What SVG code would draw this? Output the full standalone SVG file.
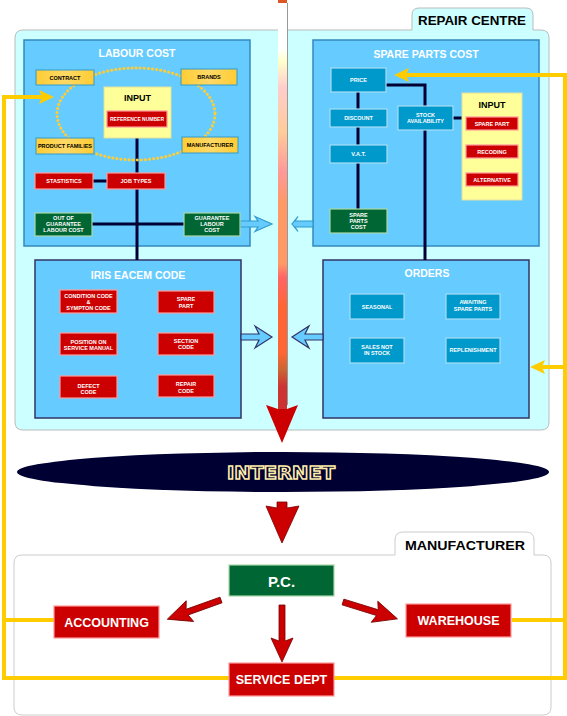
<svg xmlns="http://www.w3.org/2000/svg" xmlns:xlink="http://www.w3.org/1999/xlink" width="567" height="716" viewBox="0 0 567 716">
<defs>
<style>
.panel{fill:#66ccff;stroke:#336699;stroke-width:1.5}
.ttl{font:bold 10.5px "Liberation Sans",Arial,sans-serif;fill:#fff;text-anchor:middle}
.s{font:bold 5.5px "Liberation Sans",Arial,sans-serif;fill:#fff;text-anchor:middle}
.sk{font:bold 5.5px "Liberation Sans",Arial,sans-serif;fill:#000;text-anchor:middle}
.inp{font:bold 9px "Liberation Sans",Arial,sans-serif;fill:#000;text-anchor:middle}
.tab{font:bold 13px "Liberation Sans",Arial,sans-serif;fill:#000;text-anchor:middle}
.big{font:bold 12.5px "Liberation Sans",Arial,sans-serif;fill:#fff;text-anchor:middle}
.red{fill:#cc0000;stroke:#ff9999;stroke-width:1.2}
.grn{fill:#006633;stroke:#a8d8a8;stroke-width:1.2}
.teal{fill:#0099cc;stroke:#a8dcf4;stroke-width:1.2}
.yel{fill:url(#yg);stroke:#3399cc;stroke-width:1}
.wire{stroke:#000033;stroke-width:3;fill:none}
.yl{stroke:#ffcc00;stroke-width:4;fill:none}
.ba{fill:#66ccff;stroke:#3399cc;stroke-width:1.2}
.bd{fill:#66ccff;stroke:#333366;stroke-width:1.2}
.ra{fill:#cc0000;stroke:#770000;stroke-width:0.8}
</style>
<linearGradient id="yg" x1="0" y1="0" x2="1" y2="0">
<stop offset="0" stop-color="#ffcc33"/><stop offset="0.5" stop-color="#ffd966"/><stop offset="1" stop-color="#ffcc33"/>
</linearGradient>
<linearGradient id="mg" gradientUnits="userSpaceOnUse" x1="0" y1="0" x2="0" y2="440">
<stop offset="0" stop-color="#ffffff"/><stop offset="0.11" stop-color="#ffffff"/>
<stop offset="0.14" stop-color="#ffffcc"/><stop offset="0.2" stop-color="#ffcccc"/>
<stop offset="0.3" stop-color="#ffcc99"/><stop offset="0.39" stop-color="#ff9999"/>
<stop offset="0.46" stop-color="#ff9966"/><stop offset="0.6" stop-color="#ff9966"/>
<stop offset="0.63" stop-color="#ff6666"/><stop offset="0.7" stop-color="#ff6633"/>
<stop offset="0.8" stop-color="#ff6633"/><stop offset="0.84" stop-color="#cc6633"/>
<stop offset="0.88" stop-color="#cc3333"/><stop offset="1" stop-color="#cc3333"/>
</linearGradient>
<marker id="ya" markerUnits="userSpaceOnUse" markerWidth="16" markerHeight="14" refX="4" refY="7" orient="auto-start-reverse">
<path d="M0,0 L15,7 L0,14 L3,7 Z" fill="#ffcc00"/>
</marker>
<path id="rarr" d="M0,-3 H36 L33,-11 L57,0 L33,11 L36,3 H0 Z"/>
</defs>

<!-- containers -->
<g id="repair-centre">
<path d="M15,38 Q15,30 23,30 H412 V15 Q412,8 419,8 H526 Q533,8 533,15 V30 H541 Q549,30 549,38 V422 Q549,430 541,430 H23 Q15,430 15,422 Z" fill="#ccffff" stroke="#bbbbbb" stroke-width="1"/>
<text class="tab" x="472" y="25" textLength="108" lengthAdjust="spacingAndGlyphs">REPAIR CENTRE</text>
</g>
<g id="manufacturer">
<path d="M14,563 Q14,555 22,555 H395 V540 Q395,532 403,532 H526 Q534,532 534,540 V555 H543 Q551,555 551,563 V707 Q551,715 543,715 H22 Q14,715 14,707 Z" fill="#ffffff" stroke="#cccccc" stroke-width="1"/>
<text class="tab" x="465" y="550" textLength="120" lengthAdjust="spacingAndGlyphs">MANUFACTURER</text>
</g>

<!-- panels -->
<g id="labour-cost">
<rect class="panel" x="24" y="40" width="226" height="206" style="stroke:#3388bb"/>
<text class="ttl" x="137" y="57">LABOUR COST</text>
</g>
<g id="spare-parts-cost">
<rect class="panel" x="313" y="40" width="226" height="206" style="stroke:#3388bb"/>
<text class="ttl" x="426" y="58">SPARE PARTS COST</text>
</g>
<g id="iris-eacem-code">
<rect class="panel" x="35" y="260" width="206" height="158" style="stroke:#333366"/>
<text class="ttl" x="138" y="279">IRIS EACEM CODE</text>
</g>
<g id="orders">
<rect class="panel" x="323" y="260" width="206" height="158" style="stroke:#333366"/>
<text class="ttl" x="427" y="277">ORDERS</text>
</g>

<!-- connectors -->
<g id="connectors">
<path class="wire" d="M137,127 V260"/>
<path class="wire" d="M93,181 H107"/>
<path class="wire" d="M92,224 H184"/>
<path class="wire" d="M358,92 V209"/>
<path class="wire" d="M386,85 H425 V106"/>
<path class="wire" d="M453,118 H462"/>
<path class="wire" d="M425,130 V260"/>
<path class="yl" d="M43,97 H4 V678 H565 V75 H405" marker-start="url(#ya)" marker-end="url(#ya)"/>
<path class="yl" d="M4,620 H54"/>
<path class="yl" d="M512,620 H565"/>
<path class="yl" d="M565,367 H541" marker-end="url(#ya)"/>
<polygon class="ba" points="240,221 258,221 255,216.5 272,224 255,231.5 258,227 240,227"/>
<polygon class="ba" points="313,221 295,221 298,216.5 292,224 298,231.5 295,227 313,227"/>
<polygon class="bd" points="241,334 259,334 255,326 272,337 255,348 259,340 241,340"/>
<polygon class="bd" points="323,334 305,334 309,326 292,337 309,348 305,340 323,340"/>
<g id="main-arrow">
<rect x="278" y="0" width="9" height="410" fill="url(#mg)"/>
<rect x="278" y="0" width="9" height="3" fill="#dd5522"/>
<line x1="287.5" y1="3" x2="287.5" y2="405" stroke="#999999" stroke-width="1"/>
<path d="M278,409 L266,405 L282,443 L298,405 L287,409 Z" fill="#cc0000"/>
</g>
<path class="ra" d="M277,502 H287 V508 L299,506 L282,543 L266,506 L277,508 Z"/>
<use href="#rarr" class="ra" transform="translate(221,600) rotate(160.3)"/>
<use href="#rarr" class="ra" transform="translate(343,602) rotate(17.2)"/>
<use href="#rarr" class="ra" transform="translate(282,605) rotate(90)"/>
</g>

<!-- labour cost nodes -->
<ellipse cx="136" cy="114" rx="79" ry="46" fill="none" stroke="#ffcc33" stroke-width="3" stroke-dasharray="0.1 4" stroke-linecap="round"/>
<g id="contract"><rect class="yel" x="36" y="70" width="58" height="15"/><text class="sk" x="65" y="79.5">CONTRACT</text></g>
<g id="brands"><rect class="yel" x="181" y="69" width="56" height="16"/><text class="sk" x="209" y="79">BRANDS</text></g>
<g id="product-families"><rect class="yel" x="36" y="138" width="58" height="16"/><text class="sk" x="65" y="148">PRODUCT FAMILIES</text></g>
<g id="manufacturer-label"><rect class="yel" x="182" y="137" width="56" height="16"/><text class="sk" x="210" y="147">MANUFACTURER</text></g>
<g id="input-labour"><rect x="104" y="87" width="67" height="51" fill="#ffff99" stroke="#e0e0a0"/><text class="inp" x="137.5" y="101">INPUT</text></g>
<g id="reference-number"><rect class="red" x="107" y="111" width="60" height="16"/><text class="s" x="137" y="121" textLength="54" lengthAdjust="spacingAndGlyphs">REFERENCE NUMBER</text></g>
<g id="stastistics"><rect class="red" x="35" y="173" width="58" height="16"/><text class="s" x="64" y="183">STASTISTICS</text></g>
<g id="job-types"><rect class="red" x="107" y="173" width="58" height="16"/><text class="s" x="136" y="183">JOB TYPES</text></g>
<g id="out-of-guarantee"><rect class="grn" x="35" y="213" width="57" height="23"/><text class="s" x="63.5" y="219.5">OUT OF<tspan x="63.5" dy="6">GUARANTEE</tspan><tspan x="63.5" dy="6">LABOUR COST</tspan></text></g>
<g id="guarantee-labour-cost"><rect class="grn" x="184" y="213" width="56" height="23"/><text class="s" x="212" y="219.5">GUARANTEE<tspan x="212" dy="6">LABOUR</tspan><tspan x="212" dy="6">COST</tspan></text></g>

<!-- spare parts nodes -->
<g id="price"><rect class="teal" x="331" y="68" width="55" height="24"/><text class="s" x="358.5" y="82">PRICE</text></g>
<g id="discount"><rect class="teal" x="330" y="109" width="57" height="18"/><text class="s" x="358.5" y="120">DISCOUNT</text></g>
<g id="vat"><rect class="teal" x="330" y="145" width="57" height="18"/><text class="s" x="358.5" y="156">V.A.T.</text></g>
<g id="spare-parts-cost-node"><rect class="grn" x="330" y="209" width="57" height="24"/><text class="s" x="358.5" y="216.5">SPARE<tspan x="358.5" dy="6">PARTS</tspan><tspan x="358.5" dy="6">COST</tspan></text></g>
<g id="stock-availability"><rect class="teal" x="398" y="106" width="55" height="24"/><text class="s" x="425.5" y="117">STOCK<tspan x="425.5" dy="6">AVAILABILITY</tspan></text></g>
<g id="input-spare"><rect x="462" y="93" width="60" height="107" fill="#ffff99" stroke="#e0e0a0"/><text class="inp" x="492" y="108">INPUT</text></g>
<g id="spare-part-input"><rect class="red" x="466" y="117" width="52" height="13"/><text class="s" x="492" y="125.5">SPARE PART</text></g>
<g id="recoding"><rect class="red" x="466" y="145" width="52" height="13"/><text class="s" x="492" y="153.5">RECODING</text></g>
<g id="alternative"><rect class="red" x="466" y="173" width="52" height="13"/><text class="s" x="492" y="181.5">ALTERNATIVE</text></g>

<!-- IRIS nodes -->
<g id="condition-code"><rect class="red" x="60" y="290" width="57" height="23"/><text class="s" x="88.5" y="297.5">CONDITION CODE<tspan x="88.5" dy="6">&amp;</tspan><tspan x="88.5" dy="6">SYMPTON CODE</tspan></text></g>
<g id="spare-part-iris"><rect class="red" x="158" y="291" width="56" height="22"/><text class="s" x="186" y="301">SPARE<tspan x="186" dy="6.5">PART</tspan></text></g>
<g id="position-on-service-manual"><rect class="red" x="60" y="333" width="57" height="22"/><text class="s" x="88.5" y="343.5">POSITION ON<tspan x="88.5" dy="6">SERVICE MANUAL</tspan></text></g>
<g id="section-code"><rect class="red" x="158" y="333" width="56" height="22"/><text class="s" x="186" y="342.5">SECTION<tspan x="186" dy="6.5">CODE</tspan></text></g>
<g id="defect-code"><rect class="red" x="60" y="376" width="57" height="22"/><text class="s" x="88.5" y="387.5">DEFECT<tspan x="88.5" dy="6.5">CODE</tspan></text></g>
<g id="repair-code"><rect class="red" x="158" y="375" width="56" height="22"/><text class="s" x="186" y="386">REPAIR<tspan x="186" dy="6.5">CODE</tspan></text></g>

<!-- orders nodes -->
<g id="seasonal"><rect class="teal" x="350" y="294" width="54" height="25"/><text class="s" x="377" y="308.5">SEASONAL</text></g>
<g id="awaiting-spare-parts"><rect class="teal" x="446" y="294" width="54" height="25"/><text class="s" x="473" y="304">AWAITING<tspan x="473" dy="6.5">SPARE PARTS</tspan></text></g>
<g id="sales-not-in-stock"><rect class="teal" x="350" y="338" width="54" height="25"/><text class="s" x="377" y="348.5">SALES NOT<tspan x="377" dy="6.5">IN STOCK</tspan></text></g>
<g id="replenishment"><rect class="teal" x="446" y="338" width="54" height="25"/><text class="s" x="473" y="352">REPLENISHMENT</text></g>

<!-- internet -->
<g id="internet">
<ellipse cx="283" cy="472" rx="266" ry="20" fill="#000033"/>
<text x="281" y="478.5" font-family="'DejaVu Sans',sans-serif" font-weight="bold" font-size="17" fill="#000033" stroke="#ffeeaa" stroke-width="1.4" text-anchor="middle" textLength="108" lengthAdjust="spacingAndGlyphs">INTERNET</text>
</g>

<!-- manufacturer nodes -->
<g id="pc"><rect class="grn" x="229" y="565" width="105" height="31"/><text class="big" x="281.5" y="586.5" style="font-size:15px">P.C.</text></g>
<g id="accounting"><rect class="red" x="54" y="606" width="105" height="32"/><text class="big" x="106.5" y="626.5">ACCOUNTING</text></g>
<g id="warehouse"><rect class="red" x="406" y="604" width="105" height="33"/><text class="big" x="458.5" y="625">WAREHOUSE</text></g>
<g id="service-dept"><rect class="red" x="229" y="663" width="105" height="33"/><text class="big" x="281.5" y="684">SERVICE DEPT</text></g>
</svg>
